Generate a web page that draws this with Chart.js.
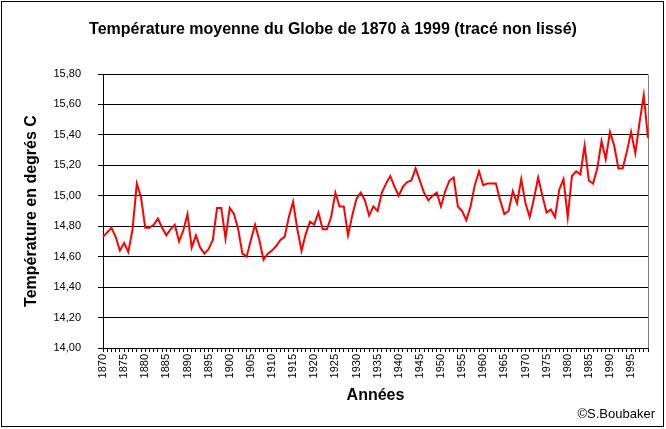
<!DOCTYPE html>
<html>
<head>
<meta charset="utf-8">
<script src="https://cdn.jsdelivr.net/npm/chart.js@4/dist/chart.umd.min.js"></script>
<style>
  html, body { margin: 0; padding: 0; background: #fff; }
  #wrap { width: 666px; height: 429px; position: relative; }
</style>
</head>
<body>
<div id="wrap"><canvas id="c" width="666" height="429"></canvas></div>
<script>
const chartTitle = 'Température moyenne du Globe de 1870 à 1999 (tracé non lissé)';
const xTitle = 'Années';
const yTitle = 'Température en degrés C';
const credit = '©S.Boubaker';

const years = [];
for (let y = 1870; y <= 1999; y++) years.push(y);

const temps = [
  14.73, 14.76, 14.79, 14.73, 14.64, 14.69, 14.63, 14.78, 15.08, 14.99,
  14.79, 14.79, 14.81, 14.85, 14.79, 14.74, 14.78, 14.81, 14.70, 14.77,
  14.88, 14.66, 14.74, 14.66, 14.62, 14.65, 14.71, 14.92, 14.92, 14.72,
  14.92, 14.88, 14.78, 14.62, 14.60, 14.71, 14.81, 14.71, 14.58, 14.62,
  14.64, 14.67, 14.71, 14.73, 14.86, 14.96, 14.78, 14.64, 14.75, 14.83,
  14.81, 14.89, 14.78, 14.78, 14.86, 15.02, 14.93, 14.93, 14.74, 14.87,
  14.98, 15.02, 14.97, 14.87, 14.93, 14.90, 15.02, 15.08, 15.13, 15.06,
  15.00, 15.06, 15.09, 15.10, 15.18, 15.10, 15.02, 14.97, 15.00, 15.02,
  14.93, 15.03, 15.10, 15.12, 14.93, 14.90, 14.84, 14.93, 15.07, 15.16,
  15.07, 15.08, 15.08, 15.08, 14.97, 14.88, 14.90, 15.03, 14.95, 15.11,
  14.95, 14.86, 14.98, 15.12, 15.00, 14.89, 14.91, 14.86, 15.04, 15.11,
  14.86, 15.13, 15.16, 15.14, 15.33, 15.10, 15.08, 15.18, 15.36, 15.24,
  15.42, 15.33, 15.18, 15.18, 15.29, 15.42, 15.28, 15.48, 15.66, 15.38
];

const xTickLabels = [1870, 1875, 1880, 1885, 1890, 1895, 1900, 1905, 1910, 1915, 1920,
  1925, 1930, 1935, 1940, 1945, 1950, 1955, 1960, 1965, 1970, 1975, 1980, 1985, 1990, 1995];
const yTicks = [14.00, 14.20, 14.40, 14.60, 14.80, 15.00, 15.20, 15.40, 15.60, 15.80];

const FONT = '"Liberation Sans", Arial, sans-serif';

const deco = {
  id: 'deco',
  beforeDraw(chart) {
    const ctx = chart.ctx;
    ctx.save();
    ctx.fillStyle = '#fff';
    ctx.fillRect(0, 0, chart.width, chart.height);
    ctx.restore();
  },
  beforeDatasetsDraw(chart) {
    const {ctx, chartArea: a} = chart;
    ctx.save();
    ctx.strokeStyle = '#808080';
    ctx.lineWidth = 1;
    const x = Math.round(a.right) + 0.5;
    ctx.beginPath();
    ctx.moveTo(x, Math.round(a.top) + 0.5);
    ctx.lineTo(x, Math.round(a.bottom) + 0.5);
    ctx.stroke();
    ctx.restore();
  },
  afterDraw(chart) {
    const ctx = chart.ctx;
    ctx.save();
    ctx.strokeStyle = '#000';
    ctx.lineWidth = 1;
    ctx.strokeRect(1.5, 1.5, 662, 425);
    ctx.fillStyle = '#000';
    ctx.font = 'bold 16px ' + FONT;
    ctx.textAlign = 'center';
    ctx.textBaseline = 'middle';
    ctx.fillText(chartTitle, 333, 30);
    ctx.font = '13px ' + FONT;
    ctx.textAlign = 'right';
    ctx.fillText(credit, 655, 414);
    ctx.restore();
  }
};

new Chart(document.getElementById('c'), {
  type: 'line',
  data: {
    labels: years,
    datasets: [{
      data: temps,
      borderColor: '#ff0000',
      borderWidth: 2,
      pointRadius: 0,
      tension: 0,
      fill: false
    }]
  },
  options: {
    responsive: false,
    animation: false,
    devicePixelRatio: 1,
    layout: { padding: { top: 74, right: 18, left: 0, bottom: 0 } },
    plugins: {
      legend: { display: false },
      tooltip: { enabled: false },
      title: { display: false }
    },
    scales: {
      x: {
        type: 'category',
        offset: false,
        grid: { drawOnChartArea: false, drawTicks: true, tickLength: 4, color: '#000', offset: false },
        border: { display: true, color: '#000', width: 1 },
        ticks: {
          autoSkip: false,
          maxRotation: 90,
          minRotation: 90,
          padding: 2,
          color: '#000',
          font: { family: FONT, size: 11 },
          callback: (v, i) => xTickLabels.includes(years[i]) ? String(years[i]) : ''
        },
        title: {
          display: true, text: xTitle, color: '#000',
          font: { family: FONT, size: 16, weight: 'bold' },
          padding: { top: 0, bottom: 24 }
        },
        afterFit: s => { s.height = 81; }
      },
      y: {
        min: 14,
        max: 15.8,
        afterBuildTicks: s => { s.ticks = yTicks.map(v => ({ value: v })); },
        grid: { color: '#000', drawTicks: true, tickLength: 5, lineWidth: 1 },
        border: { display: true, color: '#000', width: 1 },
        ticks: {
          padding: 17,
          color: '#000',
          font: { family: FONT, size: 11 },
          callback: v => Number(v).toFixed(2).replace('.', ',')
        },
        title: {
          display: true, text: yTitle, color: '#000',
          font: { family: FONT, size: 16, weight: 'bold' },
          padding: { top: 22, bottom: 0 }
        },
        afterFit: s => { s.width = 103; }
      }
    }
  },
  plugins: [deco]
});
</script>
</body>
</html>
